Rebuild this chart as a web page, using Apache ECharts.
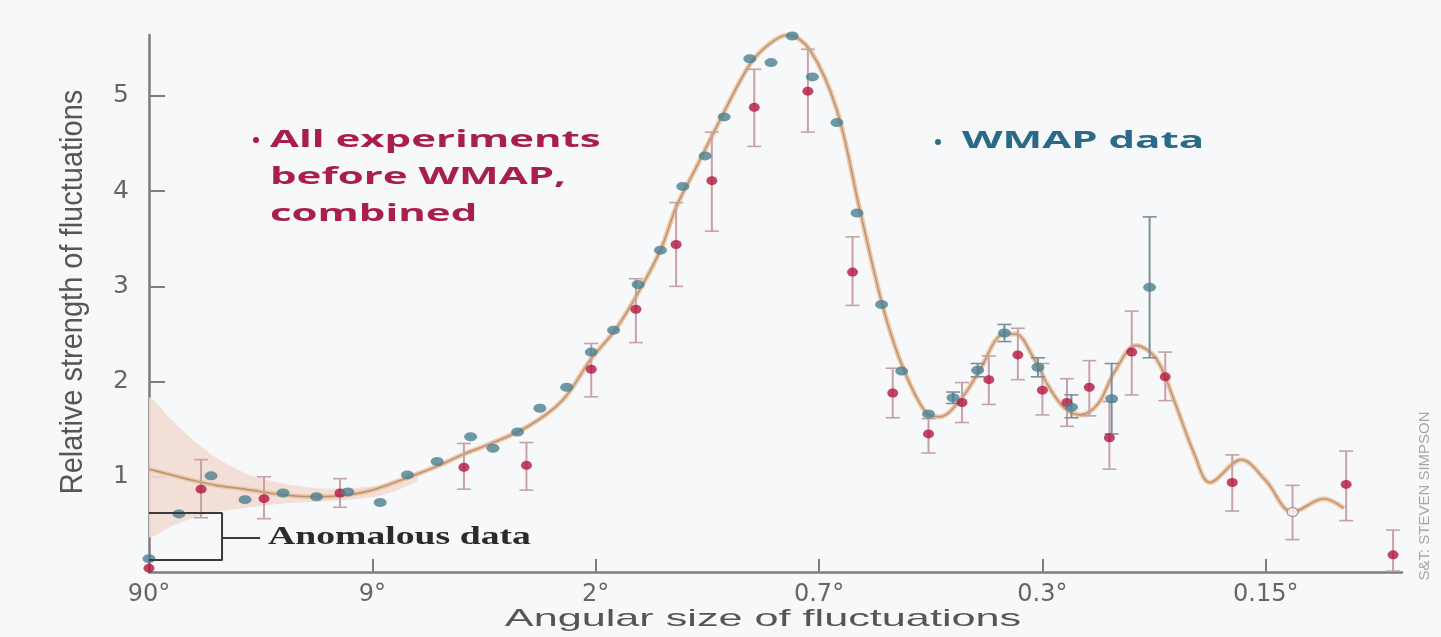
<!DOCTYPE html>
<html>
<head>
<meta charset="utf-8">
<title>Relative strength of fluctuations vs angular size</title>
<script src="https://cdn.jsdelivr.net/npm/echarts@6.0.0/dist/echarts.min.js"></script>
<style>
  html, body { margin: 0; padding: 0; background: #f7f8f9; }
  #chart { width: 1441px; height: 637px; }
</style>
</head>
<body>
<div id="chart"></div>
<script>
// Horizontal position is measured in tick steps: 0 = 90°, 1 = 9°, 2 = 2°, 3 = 0.7°, 4 = 0.3°, 5 = 0.15°
const xTicks = [0, 1, 2, 3, 4, 5];
const xTickLabels = ['90°', '9°', '2°', '0.7°', '0.3°', '0.15°'];
const yTicks = [1, 2, 3, 4, 5];

// All experiments before WMAP, combined (value with error range)
const preX    = [0.00, 0.233, 0.515, 0.855, 1.41, 1.69, 1.98, 2.18, 2.36, 2.52, 2.71, 2.95, 3.15, 3.33, 3.49, 3.64, 3.76, 3.89, 4.00, 4.11, 4.21, 4.30, 4.40, 4.55, 4.85, 5.12, 5.36, 5.57];
const preY    = [0.04, 0.87, 0.77, 0.83, 1.10, 1.12, 2.13, 2.76, 3.44, 4.11, 4.88, 5.05, 3.15, 1.88, 1.45, 1.78, 2.02, 2.28, 1.91, 1.78, 1.94, 1.41, 2.31, 2.05, 0.94, 0.63, 0.92, 0.18];
const preLow  = [0.04, 0.57, 0.56, 0.68, 0.87, 0.86, 1.84, 2.41, 3.00, 3.58, 4.47, 4.62, 2.80, 1.62, 1.25, 1.57, 1.76, 2.02, 1.65, 1.53, 1.64, 1.08, 1.86, 1.80, 0.64, 0.34, 0.54, 0.01];
const preHigh = [0.04, 1.18, 1.00, 0.98, 1.35, 1.36, 2.40, 3.08, 3.88, 4.62, 5.28, 5.49, 3.52, 2.14, 1.61, 1.99, 2.27, 2.56, 2.19, 2.03, 2.22, 1.79, 2.74, 2.31, 1.23, 0.91, 1.27, 0.44];
const openMarkerIndex = 25;

// WMAP data (value with error range)
const wmapX    = [0.00, 0.134, 0.278, 0.43, 0.60, 0.75, 0.89, 1.035, 1.157, 1.29, 1.44, 1.54, 1.65, 1.75, 1.87, 1.98, 2.08, 2.19, 2.29, 2.39, 2.49, 2.575, 2.69, 2.785, 2.88, 2.97, 3.08, 3.17, 3.28, 3.37, 3.49, 3.60, 3.71, 3.83, 3.98, 4.13, 4.31, 4.48];
const wmapY    = [0.14, 0.61, 1.01, 0.76, 0.83, 0.79, 0.84, 0.73, 1.02, 1.16, 1.42, 1.30, 1.47, 1.72, 1.94, 2.31, 2.54, 3.02, 3.38, 4.05, 4.37, 4.78, 5.39, 5.35, 5.63, 5.20, 4.72, 3.77, 2.81, 2.11, 1.66, 1.83, 2.12, 2.51, 2.15, 1.73, 1.82, 2.99];
const wmapLow  = [0.14, 0.61, 1.01, 0.76, 0.83, 0.79, 0.84, 0.73, 1.02, 1.16, 1.42, 1.30, 1.47, 1.72, 1.94, 2.31, 2.54, 3.02, 3.38, 4.05, 4.37, 4.78, 5.39, 5.35, 5.63, 5.20, 4.72, 3.77, 2.81, 2.11, 1.66, 1.77, 2.05, 2.42, 2.05, 1.62, 1.45, 2.25];
const wmapHigh = [0.14, 0.61, 1.01, 0.76, 0.83, 0.79, 0.84, 0.73, 1.02, 1.16, 1.42, 1.30, 1.47, 1.72, 1.94, 2.31, 2.54, 3.02, 3.38, 4.05, 4.37, 4.78, 5.39, 5.35, 5.63, 5.20, 4.72, 3.77, 2.81, 2.11, 1.66, 1.89, 2.19, 2.60, 2.25, 1.86, 2.19, 3.73];

// Best-fit model curve
const modelX = [0.00, 0.10, 0.20, 0.30, 0.43, 0.60, 0.75, 0.89, 1.00, 1.157, 1.29, 1.41, 1.50, 1.69, 1.85, 1.98, 2.08, 2.17, 2.29, 2.36, 2.45, 2.54, 2.69, 2.78, 2.86, 2.96, 3.08, 3.18, 3.29, 3.38, 3.48, 3.54, 3.63, 3.71, 3.83, 3.88, 3.96, 4.03, 4.10, 4.17, 4.25, 4.32, 4.42, 4.51, 4.59, 4.68, 4.75, 4.89, 5.00, 5.12, 5.26, 5.35];
const modelY = [1.08, 1.02, 0.96, 0.91, 0.87, 0.81, 0.79, 0.81, 0.86, 0.99, 1.11, 1.24, 1.32, 1.52, 1.80, 2.24, 2.52, 2.85, 3.38, 3.83, 4.25, 4.67, 5.33, 5.55, 5.64, 5.48, 4.85, 3.83, 2.75, 2.12, 1.67, 1.63, 1.80, 2.08, 2.50, 2.50, 2.25, 1.94, 1.72, 1.65, 1.77, 2.09, 2.38, 2.24, 1.80, 1.24, 0.94, 1.18, 0.96, 0.63, 0.77, 0.67];

// Uncertainty envelope around the model at the largest angles
const bandX     = [0.00, 0.10, 0.20, 0.30, 0.45, 0.60, 0.75, 0.90, 1.05, 1.20];
const bandUpper = [1.83, 1.60, 1.38, 1.20, 1.02, 0.93, 0.88, 0.88, 0.92, 1.04];
const bandLower = [0.37, 0.48, 0.57, 0.63, 0.68, 0.72, 0.74, 0.76, 0.81, 0.95];

// "Anomalous data" bracket and its leader line
const bracketX = [0.00, 0.327, 0.327, 0.00];
const bracketY = [0.62, 0.62, 0.126, 0.126];
const leaderX = [0.327, 0.497];
const leaderY = [0.357, 0.357];

const RED = '#b3173e';
const BLUE = '#4b7f90';
const BG = '#f7f8f9';

const chart = echarts.init(document.getElementById('chart'), null, { renderer: 'canvas' });

function errorBarSeries(xs, lows, highs, stroke, z) {
  return {
    type: 'custom',
    coordinateSystem: 'cartesian2d',
    z: z,
    silent: true,
    clip: false,
    encode: { x: 0, y: [1, 2] },
    data: xs.map((x, i) => [x, lows[i], highs[i]]),
    renderItem: function (params, api) {
      const x = api.value(0), lo = api.value(1), hi = api.value(2);
      if (hi - lo <= 0) return { type: 'group', children: [] };
      const top = api.coord([x, hi]);
      const bot = api.coord([x, lo]);
      const w = 7;
      return {
        type: 'group',
        children: [
          { type: 'line', shape: { x1: top[0], y1: top[1], x2: bot[0], y2: bot[1] }, style: { stroke: stroke, lineWidth: 2 } },
          { type: 'line', shape: { x1: top[0] - w, y1: top[1], x2: top[0] + w, y2: top[1] }, style: { stroke: stroke, lineWidth: 1.6 } },
          { type: 'line', shape: { x1: bot[0] - w, y1: bot[1], x2: bot[0] + w, y2: bot[1] }, style: { stroke: stroke, lineWidth: 1.6 } }
        ]
      };
    }
  };
}

function stretchedText(x, y, text, font, fill, opts) {
  const o = opts || {};
  return {
    type: 'text',
    x: x, y: y,
    scaleX: o.scaleX || 1,
    scaleY: o.scaleY || 1,
    rotation: o.rotation || 0,
    silent: true,
    z: 20,
    style: {
      text: text,
      font: font,
      fill: fill,
      align: o.align || 'left',
      verticalAlign: 'middle',
      textAlign: o.align || 'left',
      textVerticalAlign: 'middle'
    }
  };
}

const option = {
  animation: false,
  backgroundColor: BG,
  grid: { left: 149, right: 39, top: 35, bottom: 65, containLabel: false },
  xAxis: {
    type: 'value',
    min: 0,
    max: 5.61,
    interval: 1,
    splitLine: { show: false },
    axisLine: { onZero: false, lineStyle: { color: '#7d7d7d', width: 2.5 } },
    axisTick: { inside: true, length: 13, customValues: xTicks, lineStyle: { color: '#7d7d7d', width: 2 } },
    axisLabel: {
      customValues: xTicks,
      margin: 11,
      color: '#666',
      fontFamily: 'DejaVu Sans',
      fontSize: 24,
      formatter: v => xTickLabels[Math.round(v)]
    }
  },
  yAxis: {
    type: 'value',
    min: 0,
    max: 5.64,
    interval: 1,
    splitLine: { show: false },
    axisLine: { show: true, onZero: false, lineStyle: { color: '#7d7d7d', width: 2.5 } },
    axisTick: { show: true, inside: true, length: 16, customValues: yTicks, lineStyle: { color: '#7d7d7d', width: 2 } },
    axisLabel: {
      customValues: yTicks,
      margin: 20,
      color: '#666',
      fontFamily: 'DejaVu Sans',
      fontSize: 25
    }
  },
  graphic: [
    // legend: all experiments before WMAP
    { type: 'circle', x: 256, y: 140, shape: { r: 3 }, style: { fill: RED }, silent: true, z: 20 },
    stretchedText(270, 140, 'All experiments', 'bold 24px "Open Sans"', '#a81f4c', { scaleX: 1.75 }),
    stretchedText(270, 177, 'before WMAP,', 'bold 24px "Open Sans"', '#a81f4c', { scaleX: 1.75 }),
    stretchedText(270, 214, 'combined', 'bold 24px "Open Sans"', '#a81f4c', { scaleX: 1.75 }),
    // legend: WMAP
    { type: 'circle', x: 938, y: 142, shape: { r: 3 }, style: { fill: '#2e6b84' }, silent: true, z: 20 },
    stretchedText(962, 141, 'WMAP data', 'bold 24px "Open Sans"', '#2a6a86', { scaleX: 1.75 }),
    // annotation
    stretchedText(268, 537, 'Anomalous data', 'bold 26px "Liberation Serif"', '#2b2b2b', { scaleX: 1.45 }),
    // axis titles
    stretchedText(763, 619, 'Angular size of fluctuations', '24px "Liberation Sans"', '#555', { scaleX: 1.8, align: 'center' }),
    stretchedText(73, 292, 'Relative strength of fluctuations', '29px "Liberation Sans"', '#555', { rotation: Math.PI / 2, align: 'center', scaleY: 1.1 }),
    // credit
    stretchedText(1425, 496, 'S&T: STEVEN SIMPSON', '15px "Liberation Sans"', '#a6a6a6', { rotation: Math.PI / 2, align: 'center' })
  ],
  series: [
    {
      name: 'envelope',
      type: 'custom',
      coordinateSystem: 'cartesian2d',
      z: 1,
      silent: true,
      clip: true,
      data: [[0, 0]],
      renderItem: function (params, api) {
        const pts = [];
        bandX.forEach((x, i) => pts.push(api.coord([x, bandUpper[i]])));
        for (let i = bandX.length - 1; i >= 0; i--) pts.push(api.coord([bandX[i], bandLower[i]]));
        return { type: 'polygon', shape: { points: pts, smooth: 0.2 }, style: { fill: '#f1dcd3', opacity: 0.9 } };
      }
    },
    {
      name: 'model glow',
      type: 'line',
      z: 2,
      silent: true,
      showSymbol: false,
      smooth: 0.35,
      data: modelX.map((x, i) => [x, modelY[i]]),
      lineStyle: { color: '#efc9a6', width: 5 }
    },
    {
      name: 'model',
      type: 'line',
      z: 3,
      silent: true,
      showSymbol: false,
      smooth: 0.35,
      data: modelX.map((x, i) => [x, modelY[i]]),
      lineStyle: { color: '#b8957d', width: 1.6 }
    },
    errorBarSeries(preX, preLow, preHigh, '#c7a1a8', 4),
    errorBarSeries(wmapX, wmapLow, wmapHigh, '#7f8f99', 4),
    {
      name: 'All experiments before WMAP, combined',
      type: 'scatter',
      z: 6,
      clip: false,
      symbol: 'circle',
      symbolSize: [11, 9],
      itemStyle: { color: RED },
      data: preX.map((x, i) => i === openMarkerIndex
        ? { value: [x, preY[i]], itemStyle: { color: BG, borderColor: '#b58a8a', borderWidth: 1.5 } }
        : [x, preY[i]])
    },
    {
      name: 'WMAP data',
      type: 'scatter',
      z: 7,
      clip: false,
      symbol: 'circle',
      symbolSize: [13, 9],
      itemStyle: { color: BLUE },
      data: wmapX.map((x, i) => [x, wmapY[i]])
    },
    {
      name: 'anomaly bracket',
      type: 'line',
      z: 8,
      silent: true,
      showSymbol: false,
      clip: false,
      data: bracketX.map((x, i) => [x, bracketY[i]]),
      lineStyle: { color: '#3a3a3a', width: 2 }
    },
    {
      name: 'anomaly leader',
      type: 'line',
      z: 8,
      silent: true,
      showSymbol: false,
      clip: false,
      data: leaderX.map((x, i) => [x, leaderY[i]]),
      lineStyle: { color: '#3a3a3a', width: 2 }
    }
  ]
};

chart.setOption(option);
</script>
</body>
</html>
